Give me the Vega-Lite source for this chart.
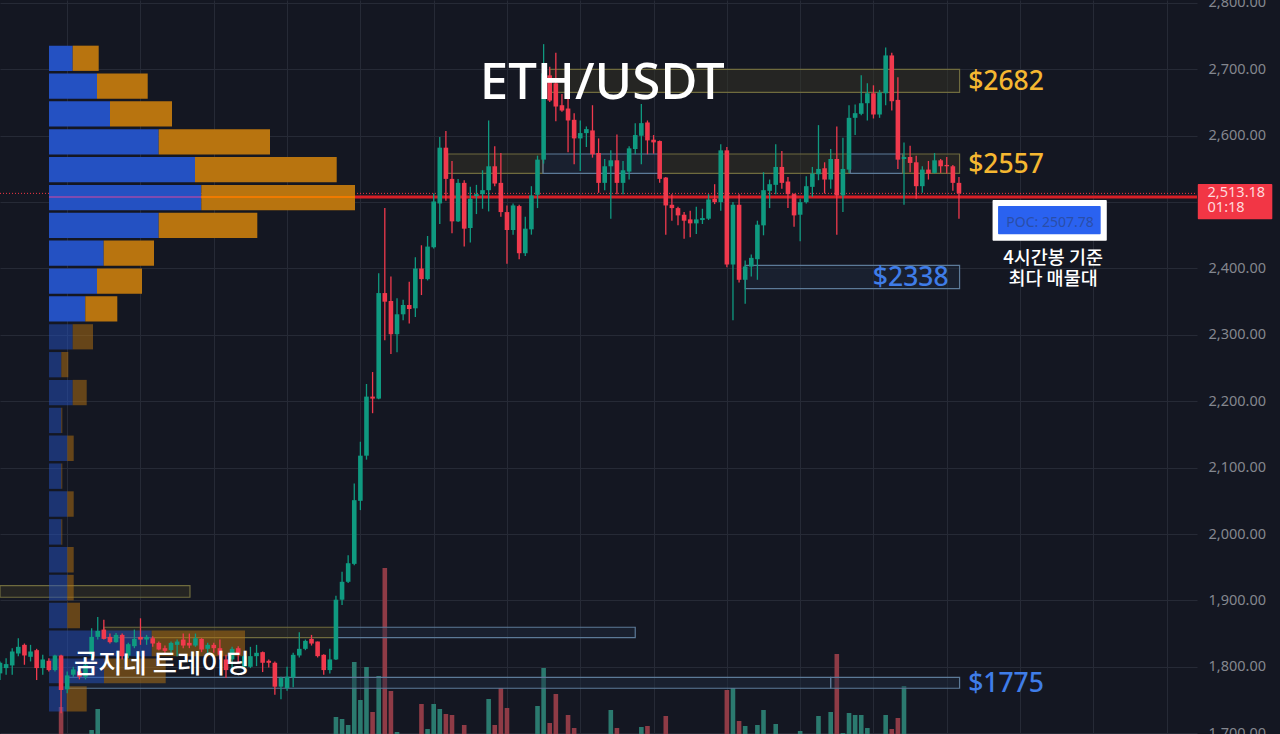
{
  "$schema": "https://vega.github.io/schema/vega-lite/v6.json",
  "width": 1197,
  "height": 734,
  "autosize": "none",
  "padding": {"left": 0, "top": 0, "right": 83, "bottom": 0},
  "background": "#141722",
  "config": {"view": {"stroke": null}},
  "datasets": {
    "candles": [
      {"bar":0,"open":1790,"high":1808,"low":1780,"close":1806},{"bar":1,"open":1798,"high":1813,"low":1788,"close":1804},{"bar":2,"open":1802,"high":1828,"low":1788,"close":1823},{"bar":3,"open":1820,"high":1843,"low":1816,"close":1830},{"bar":4,"open":1833,"high":1835,"low":1803,"close":1817},{"bar":5,"open":1815,"high":1833,"low":1808,"close":1823},{"bar":6,"open":1825,"high":1827,"low":1780,"close":1798},{"bar":7,"open":1798,"high":1818,"low":1788,"close":1811},{"bar":8,"open":1809,"high":1813,"low":1793,"close":1795},{"bar":9,"open":1795,"high":1818,"low":1793,"close":1817},
      {"bar":10,"open":1817,"high":1818,"low":1730,"close":1765},{"bar":11,"open":1766,"high":1793,"low":1760,"close":1787},{"bar":12,"open":1788,"high":1800,"low":1785,"close":1796},{"bar":13,"open":1793,"high":1798,"low":1781,"close":1785},{"bar":14,"open":1785,"high":1808,"low":1781,"close":1803},{"bar":15,"open":1818,"high":1858,"low":1813,"close":1845},{"bar":16,"open":1845,"high":1875,"low":1841,"close":1854},{"bar":17,"open":1856,"high":1871,"low":1841,"close":1842},{"bar":18,"open":1845,"high":1850,"low":1835,"close":1837},{"bar":19,"open":1837,"high":1851,"low":1836,"close":1848},
      {"bar":20,"open":1848,"high":1850,"low":1811,"close":1816},{"bar":21,"open":1817,"high":1836,"low":1813,"close":1834},{"bar":22,"open":1831,"high":1856,"low":1828,"close":1842},{"bar":23,"open":1845,"high":1873,"low":1833,"close":1841},{"bar":24,"open":1841,"high":1848,"low":1833,"close":1845},{"bar":25,"open":1843,"high":1846,"low":1830,"close":1835},{"bar":26,"open":1836,"high":1838,"low":1825,"close":1826},{"bar":27,"open":1828,"high":1832,"low":1820,"close":1824},{"bar":28,"open":1825,"high":1838,"low":1821,"close":1836},{"bar":29,"open":1833,"high":1841,"low":1816,"close":1838},
      {"bar":30,"open":1841,"high":1850,"low":1828,"close":1832},{"bar":31,"open":1836,"high":1850,"low":1828,"close":1832},{"bar":32,"open":1832,"high":1850,"low":1830,"close":1843},{"bar":33,"open":1842,"high":1843,"low":1822,"close":1826},{"bar":34,"open":1827,"high":1836,"low":1818,"close":1833},{"bar":35,"open":1833,"high":1836,"low":1821,"close":1828},{"bar":36,"open":1828,"high":1841,"low":1811,"close":1818},{"bar":37,"open":1811,"high":1818,"low":1783,"close":1795},{"bar":38,"open":1811,"high":1830,"low":1793,"close":1827},{"bar":39,"open":1828,"high":1831,"low":1805,"close":1818},
      {"bar":40,"open":1800,"high":1818,"low":1798,"close":1816},{"bar":41,"open":1800,"high":1830,"low":1798,"close":1816},{"bar":42,"open":1816,"high":1833,"low":1801,"close":1821},{"bar":43,"open":1822,"high":1823,"low":1792,"close":1806},{"bar":44,"open":1809,"high":1811,"low":1799,"close":1806},{"bar":45,"open":1806,"high":1808,"low":1758,"close":1770},{"bar":46,"open":1770,"high":1785,"low":1751,"close":1783},{"bar":47,"open":1768,"high":1800,"low":1764,"close":1785},{"bar":48,"open":1784,"high":1821,"low":1769,"close":1818},{"bar":49,"open":1817,"high":1852,"low":1814,"close":1827},
      {"bar":50,"open":1827,"high":1841,"low":1825,"close":1839},{"bar":51,"open":1842,"high":1848,"low":1832,"close":1835},{"bar":52,"open":1838,"high":1838,"low":1814,"close":1816},{"bar":53,"open":1818,"high":1819,"low":1788,"close":1795},{"bar":54,"open":1795,"high":1827,"low":1790,"close":1811},{"bar":55,"open":1811,"high":1907,"low":1810,"close":1901},{"bar":56,"open":1901,"high":1943,"low":1893,"close":1928},{"bar":57,"open":1928,"high":1968,"low":1926,"close":1956},{"bar":58,"open":1955,"high":2076,"low":1953,"close":2051},{"bar":59,"open":2050,"high":2139,"low":2036,"close":2118},
      {"bar":60,"open":2118,"high":2226,"low":2112,"close":2207},{"bar":61,"open":2207,"high":2244,"low":2182,"close":2204},{"bar":62,"open":2204,"high":2393,"low":2203,"close":2363},{"bar":63,"open":2363,"high":2491,"low":2292,"close":2350},{"bar":64,"open":2351,"high":2388,"low":2271,"close":2301},{"bar":65,"open":2301,"high":2355,"low":2274,"close":2331},{"bar":66,"open":2331,"high":2353,"low":2322,"close":2345},{"bar":67,"open":2345,"high":2380,"low":2317,"close":2339},{"bar":68,"open":2340,"high":2417,"low":2327,"close":2400},{"bar":69,"open":2400,"high":2435,"low":2360,"close":2384},
      {"bar":70,"open":2384,"high":2449,"low":2382,"close":2433},{"bar":71,"open":2432,"high":2513,"low":2430,"close":2501},{"bar":72,"open":2498,"high":2598,"low":2467,"close":2582},{"bar":73,"open":2582,"high":2607,"low":2502,"close":2535},{"bar":74,"open":2535,"high":2562,"low":2453,"close":2471},{"bar":75,"open":2471,"high":2535,"low":2470,"close":2529},{"bar":76,"open":2529,"high":2533,"low":2433,"close":2460},{"bar":77,"open":2461,"high":2523,"low":2439,"close":2505},{"bar":78,"open":2509,"high":2526,"low":2482,"close":2512},{"bar":79,"open":2512,"high":2548,"low":2490,"close":2518},
      {"bar":80,"open":2518,"high":2623,"low":2486,"close":2554},{"bar":81,"open":2554,"high":2584,"low":2524,"close":2528},{"bar":82,"open":2529,"high":2574,"low":2478,"close":2485},{"bar":83,"open":2485,"high":2495,"low":2407,"close":2458},{"bar":84,"open":2458,"high":2498,"low":2451,"close":2495},{"bar":85,"open":2494,"high":2496,"low":2414,"close":2423},{"bar":86,"open":2423,"high":2478,"low":2419,"close":2460},{"bar":87,"open":2459,"high":2524,"low":2451,"close":2510},{"bar":88,"open":2511,"high":2570,"low":2491,"close":2564},{"bar":89,"open":2564,"high":2738,"low":2558,"close":2694},
      {"bar":90,"open":2691,"high":2704,"low":2651,"close":2653},{"bar":91,"open":2679,"high":2725,"low":2622,"close":2644},{"bar":92,"open":2646,"high":2663,"low":2636,"close":2638},{"bar":93,"open":2641,"high":2661,"low":2575,"close":2623},{"bar":94,"open":2624,"high":2634,"low":2557,"close":2596},{"bar":95,"open":2596,"high":2623,"low":2547,"close":2604},{"bar":96,"open":2604,"high":2614,"low":2583,"close":2610},{"bar":97,"open":2608,"high":2646,"low":2567,"close":2572},{"bar":98,"open":2574,"high":2596,"low":2514,"close":2529},{"bar":99,"open":2529,"high":2565,"low":2518,"close":2554},
      {"bar":100,"open":2554,"high":2578,"low":2475,"close":2563},{"bar":101,"open":2563,"high":2602,"low":2512,"close":2529},{"bar":102,"open":2529,"high":2562,"low":2512,"close":2548},{"bar":103,"open":2546,"high":2584,"low":2534,"close":2581},{"bar":104,"open":2580,"high":2619,"low":2572,"close":2601},{"bar":105,"open":2600,"high":2648,"low":2557,"close":2619},{"bar":106,"open":2620,"high":2623,"low":2572,"close":2593},{"bar":107,"open":2594,"high":2601,"low":2573,"close":2590},{"bar":108,"open":2592,"high":2593,"low":2529,"close":2535},{"bar":109,"open":2537,"high":2538,"low":2451,"close":2495},
      {"bar":110,"open":2496,"high":2512,"low":2472,"close":2491},{"bar":111,"open":2491,"high":2493,"low":2465,"close":2480},{"bar":112,"open":2481,"high":2485,"low":2445,"close":2472},{"bar":113,"open":2474,"high":2487,"low":2447,"close":2468},{"bar":114,"open":2468,"high":2493,"low":2452,"close":2474},{"bar":115,"open":2473,"high":2490,"low":2467,"close":2476},{"bar":116,"open":2475,"high":2512,"low":2473,"close":2504},{"bar":117,"open":2505,"high":2527,"low":2497,"close":2500},{"bar":118,"open":2500,"high":2587,"low":2487,"close":2578},{"bar":119,"open":2578,"high":2583,"low":2402,"close":2406},
      {"bar":120,"open":2406,"high":2500,"low":2322,"close":2496},{"bar":121,"open":2496,"high":2512,"low":2379,"close":2383},{"bar":122,"open":2383,"high":2412,"low":2347,"close":2403},{"bar":123,"open":2403,"high":2421,"low":2388,"close":2416},{"bar":124,"open":2414,"high":2472,"low":2383,"close":2466},{"bar":125,"open":2465,"high":2545,"low":2450,"close":2518},{"bar":126,"open":2517,"high":2534,"low":2491,"close":2527},{"bar":127,"open":2526,"high":2587,"low":2512,"close":2553},{"bar":128,"open":2553,"high":2577,"low":2520,"close":2529},{"bar":129,"open":2531,"high":2538,"low":2491,"close":2512},
      {"bar":130,"open":2512,"high":2513,"low":2463,"close":2480},{"bar":131,"open":2481,"high":2505,"low":2441,"close":2500},{"bar":132,"open":2500,"high":2539,"low":2498,"close":2524},{"bar":133,"open":2523,"high":2553,"low":2508,"close":2543},{"bar":134,"open":2542,"high":2616,"low":2533,"close":2550},{"bar":135,"open":2551,"high":2560,"low":2513,"close":2534},{"bar":136,"open":2534,"high":2580,"low":2520,"close":2565},{"bar":137,"open":2565,"high":2614,"low":2451,"close":2510},{"bar":138,"open":2510,"high":2597,"low":2485,"close":2550},{"bar":139,"open":2549,"high":2646,"low":2544,"close":2627},
      {"bar":140,"open":2627,"high":2647,"low":2601,"close":2634},{"bar":141,"open":2633,"high":2691,"low":2631,"close":2649},{"bar":142,"open":2649,"high":2679,"low":2623,"close":2664},{"bar":143,"open":2664,"high":2676,"low":2626,"close":2632},{"bar":144,"open":2632,"high":2669,"low":2627,"close":2665},{"bar":145,"open":2664,"high":2733,"low":2646,"close":2721},{"bar":146,"open":2721,"high":2725,"low":2638,"close":2652},{"bar":147,"open":2654,"high":2688,"low":2550,"close":2564},{"bar":148,"open":2565,"high":2590,"low":2496,"close":2568},{"bar":149,"open":2568,"high":2585,"low":2545,"close":2559},
      {"bar":150,"open":2560,"high":2570,"low":2505,"close":2524},{"bar":151,"open":2524,"high":2554,"low":2514,"close":2549},{"bar":152,"open":2549,"high":2562,"low":2534,"close":2543},{"bar":153,"open":2544,"high":2574,"low":2543,"close":2563},{"bar":154,"open":2563,"high":2565,"low":2544,"close":2554},{"bar":155,"open":2556,"high":2568,"low":2543,"close":2554},{"bar":156,"open":2554,"high":2556,"low":2517,"close":2529},{"bar":157,"open":2529,"high":2538,"low":2475,"close":2513.18}
    ],
    "volume": [
      {"bar":10,"vol":27,"side":"down"},{"bar":15,"vol":4,"side":"up"},{"bar":16,"vol":25,"side":"up"},
      {"bar":55,"vol":17,"side":"up"},{"bar":56,"vol":15,"side":"up"},{"bar":57,"vol":9,"side":"up"},{"bar":58,"vol":72,"side":"up"},{"bar":59,"vol":34,"side":"up"},{"bar":60,"vol":67,"side":"up"},{"bar":61,"vol":22,"side":"down"},{"bar":62,"vol":58,"side":"up"},{"bar":63,"vol":166,"side":"down"},{"bar":64,"vol":43,"side":"down"},{"bar":65,"vol":2,"side":"up"},
      {"bar":69,"vol":30,"side":"down"},{"bar":70,"vol":5,"side":"up"},{"bar":71,"vol":30,"side":"up"},{"bar":72,"vol":25,"side":"up"},{"bar":73,"vol":20,"side":"down"},{"bar":74,"vol":19,"side":"down"},{"bar":76,"vol":9,"side":"down"},
      {"bar":80,"vol":35,"side":"up"},{"bar":81,"vol":9,"side":"down"},{"bar":82,"vol":46,"side":"down"},{"bar":83,"vol":26,"side":"down"},{"bar":88,"vol":28,"side":"up"},{"bar":89,"vol":66,"side":"up"},{"bar":90,"vol":11,"side":"down"},{"bar":91,"vol":40,"side":"down"},{"bar":93,"vol":19,"side":"down"},{"bar":94,"vol":6,"side":"down"},
      {"bar":100,"vol":24,"side":"up"},{"bar":101,"vol":6,"side":"down"},{"bar":105,"vol":7,"side":"up"},{"bar":106,"vol":8,"side":"down"},{"bar":109,"vol":18,"side":"down"},{"bar":119,"vol":44,"side":"down"},{"bar":120,"vol":46,"side":"up"},{"bar":121,"vol":13,"side":"down"},{"bar":122,"vol":8,"side":"up"},{"bar":124,"vol":9,"side":"up"},{"bar":125,"vol":24,"side":"up"},{"bar":127,"vol":10,"side":"up"},{"bar":131,"vol":3,"side":"up"},
      {"bar":134,"vol":18,"side":"up"},{"bar":136,"vol":22,"side":"up"},{"bar":137,"vol":80,"side":"down"},{"bar":138,"vol":1,"side":"up"},{"bar":139,"vol":21,"side":"up"},{"bar":140,"vol":19,"side":"up"},{"bar":141,"vol":19,"side":"up"},{"bar":142,"vol":6,"side":"up"},{"bar":145,"vol":19,"side":"up"},{"bar":146,"vol":5,"side":"down"},{"bar":147,"vol":16,"side":"down"},{"bar":148,"vol":48,"side":"up"}
    ],
    "zones": [
      {"start":90,"end":157.1,"hi":2700,"lo":2665.4,"kind":"resistance"},
      {"start":73.3,"end":88.9,"hi":2572.5,"lo":2543.4,"kind":"resistance"},
      {"start":88.9,"end":108,"hi":2572.5,"lo":2543.4,"kind":"support"},
      {"start":108,"end":139.2,"hi":2572.5,"lo":2543.4,"kind":"resistance"},
      {"start":139.2,"end":147.8,"hi":2572.5,"lo":2543.4,"kind":"support"},
      {"start":147.8,"end":157.1,"hi":2572.5,"lo":2543.4,"kind":"resistance"},
      {"start":122,"end":157.1,"hi":2404.8,"lo":2369.6,"kind":"support"},
      {"start":0,"end":31.1,"hi":1922.1,"lo":1904.7,"kind":"resistance"},
      {"start":17,"end":55,"hi":1859.5,"lo":1843.8,"kind":"resistance"},
      {"start":55,"end":104,"hi":1859.5,"lo":1843.8,"kind":"support"},
      {"start":11,"end":136,"hi":1784.1,"lo":1767.6,"kind":"support"},
      {"start":136,"end":157.1,"hi":1784.1,"lo":1767.6,"kind":"support"}
    ],
    "profile": [
      {"hi":2735.7,"lo":2697.7,"side":"buy","vol":23.7},{"hi":2735.7,"lo":2697.7,"side":"sell","vol":26},
      {"hi":2693.7,"lo":2655.7,"side":"buy","vol":48},{"hi":2693.7,"lo":2655.7,"side":"sell","vol":50.7},
      {"hi":2651.8,"lo":2613.8,"side":"buy","vol":61},{"hi":2651.8,"lo":2613.8,"side":"sell","vol":62},
      {"hi":2609.8,"lo":2571.8,"side":"buy","vol":109.7},{"hi":2609.8,"lo":2571.8,"side":"sell","vol":111.3},
      {"hi":2567.9,"lo":2529.9,"side":"buy","vol":146},{"hi":2567.9,"lo":2529.9,"side":"sell","vol":141.7},
      {"hi":2525.9,"lo":2487.9,"side":"buy","vol":152.3},{"hi":2525.9,"lo":2487.9,"side":"sell","vol":153.7},
      {"hi":2484,"lo":2446,"side":"buy","vol":109.7},{"hi":2484,"lo":2446,"side":"sell","vol":98.6},
      {"hi":2442,"lo":2404,"side":"buy","vol":54.7},{"hi":2442,"lo":2404,"side":"sell","vol":50.3},
      {"hi":2400,"lo":2362,"side":"buy","vol":48},{"hi":2400,"lo":2362,"side":"sell","vol":45},
      {"hi":2358,"lo":2320,"side":"buy","vol":36.3},{"hi":2358,"lo":2320,"side":"sell","vol":32},
      {"hi":2316.1,"lo":2278.1,"side":"buy","vol":23.7},{"hi":2316.1,"lo":2278.1,"side":"sell","vol":20.3},
      {"hi":2274.1,"lo":2236,"side":"buy","vol":12.3},{"hi":2274.1,"lo":2236,"side":"sell","vol":7},
      {"hi":2232.2,"lo":2194,"side":"buy","vol":23.7},{"hi":2232.2,"lo":2194,"side":"sell","vol":14},
      {"hi":2190.2,"lo":2152,"side":"buy","vol":12.3},{"hi":2190.2,"lo":2152,"side":"sell","vol":1},
      {"hi":2148.3,"lo":2110,"side":"buy","vol":18.3},{"hi":2148.3,"lo":2110,"side":"sell","vol":6.4},
      {"hi":2106.3,"lo":2068,"side":"buy","vol":12.3},{"hi":2106.3,"lo":2068,"side":"sell","vol":1},
      {"hi":2064.3,"lo":2026,"side":"buy","vol":18.3},{"hi":2064.3,"lo":2026,"side":"sell","vol":6.4},
      {"hi":2022.4,"lo":1984,"side":"buy","vol":12.3},{"hi":2022.4,"lo":1984,"side":"sell","vol":1},
      {"hi":1980.4,"lo":1942,"side":"buy","vol":18.3},{"hi":1980.4,"lo":1942,"side":"sell","vol":6.4},
      {"hi":1938.5,"lo":1900,"side":"buy","vol":18.3},{"hi":1938.5,"lo":1900,"side":"sell","vol":6.4},
      {"hi":1896.5,"lo":1858,"side":"buy","vol":18.3},{"hi":1896.5,"lo":1858,"side":"sell","vol":12.7},
      {"hi":1854.5,"lo":1816,"side":"buy","vol":102.7},{"hi":1854.5,"lo":1816,"side":"sell","vol":93.3},
      {"hi":1812.6,"lo":1775,"side":"buy","vol":55},{"hi":1812.6,"lo":1775,"side":"sell","vol":61.7},
      {"hi":1770.6,"lo":1732.6,"side":"buy","vol":17.7},{"hi":1770.6,"lo":1732.6,"side":"sell","vol":20}
    ]
  },
  "resolve": {"scale": {"x": "independent", "y": "independent", "color": "independent", "stroke": "independent"}},
  "layer": [
    {
      "layer": [
        {
          "data": {"name": "volume"},
          "mark": {"type": "rule", "strokeWidth": 4.6},
          "encoding": {
            "x": {"field": "bar", "type": "quantitative", "scale": {"domain": [0, 195.97], "nice": false, "zero": false}, "axis": null},
            "y": {"field": "vol", "type": "quantitative", "scale": {"domain": [0, 734], "nice": false}, "axis": null},
            "y2": {"datum": 0},
            "color": {"field": "side", "type": "nominal", "legend": null, "scale": {"domain": ["up", "down"], "range": ["#2b7a6f", "#8f3b46"]}}
          }
        }
      ]
    },
    {
      "layer": [
        {
          "data": {"name": "zones"},
          "mark": {"type": "rect", "strokeWidth": 1.2, "fillOpacity": 0.45},
          "encoding": {
            "x": {
              "field": "start", "type": "quantitative",
              "scale": {"domain": [0, 195.97], "nice": false, "zero": false},
              "axis": {"orient": "bottom", "values": [11, 23, 35, 47, 59, 71, 83, 95, 107, 119, 131, 143, 155, 167, 179, 191], "grid": true, "gridColor": "#262a36", "gridWidth": 1, "labels": false, "ticks": false, "domain": false, "title": null}
            },
            "x2": {"field": "end"},
            "y": {
              "field": "hi", "type": "quantitative",
              "scale": {"domain": [1698.7, 2804.5], "nice": false, "zero": false},
              "axis": {"orient": "right", "values": [1700, 1800, 1900, 2000, 2100, 2200, 2300, 2400, 2500, 2600, 2700, 2800], "labelExpr": "datum.value == 2500 ? '' : format(datum.value, ',.2f')", "grid": true, "gridColor": "#262a36", "gridWidth": 1, "ticks": false, "domain": false, "title": null, "labelColor": "#84878f", "labelFont": "Noto Sans", "labelFontSize": 14.5, "labelPadding": 11, "labelBound": false, "labelOverlap": false, "labelFlush": false}
            },
            "y2": {"field": "lo"},
            "color": {"field": "kind", "type": "nominal", "legend": null, "scale": {"domain": ["resistance", "support"], "range": ["#3a3826", "#1f2c40"]}},
            "stroke": {"field": "kind", "type": "nominal", "legend": null, "scale": {"domain": ["resistance", "support"], "range": ["#6f6b3e", "#5c7a98"]}}
          }
        },
        {
          "data": {"values": [{"start": 8.02, "end": 195.97, "price": 2507.78}]},
          "mark": {"type": "rule", "strokeWidth": 3, "color": "#d81f26"},
          "encoding": {
            "x": {"field": "start", "type": "quantitative"},
            "x2": {"field": "end"},
            "y": {"field": "price", "type": "quantitative"}
          }
        },
        {
          "data": {"values": [{"start": 0, "end": 195.97, "price": 2513.18}]},
          "mark": {"type": "rule", "strokeWidth": 1, "strokeDash": [1, 2], "color": "#f23645"},
          "encoding": {
            "x": {"field": "start", "type": "quantitative"},
            "x2": {"field": "end"},
            "y": {"field": "price", "type": "quantitative"}
          }
        }
      ]
    },
    {
      "layer": [
        {
          "data": {"name": "profile"},
          "transform": [{"stack": "vol", "groupby": ["hi"], "sort": [{"field": "side", "order": "ascending"}], "as": ["v0", "v1"]}],
          "mark": {"type": "rect"},
          "encoding": {
            "x": {"field": "v0", "type": "quantitative", "scale": {"domain": [-49, 1148], "nice": false, "zero": false}, "axis": null},
            "x2": {"field": "v1"},
            "y": {"field": "hi", "type": "quantitative", "scale": {"domain": [1698.7, 2804.5], "nice": false, "zero": false}, "axis": null},
            "y2": {"field": "lo"},
            "color": {"field": "side", "type": "nominal", "legend": null, "scale": {"domain": ["buy", "sell"], "range": ["#2451c2", "#b8740f"]}},
            "opacity": {"condition": {"test": "datum.hi < 2320", "value": 0.5}, "value": 1}
          }
        },
        {
          "data": {"name": "profile"},
          "transform": [
            {"stack": "vol", "groupby": ["hi"], "sort": [{"field": "side", "order": "ascending"}], "as": ["v0", "v1"]},
            {"filter": "datum.hi == 2525.9"}
          ],
          "mark": {"type": "rule", "strokeWidth": 2},
          "encoding": {
            "x": {"field": "v0", "type": "quantitative"},
            "x2": {"field": "v1"},
            "y": {"datum": 2507.78},
            "stroke": {"field": "side", "type": "nominal", "legend": null, "scale": {"domain": ["buy", "sell"], "range": ["#7f4bb0", "#f07a00"]}}
          }
        }
      ]
    },
    {
      "layer": [
        {
          "data": {"name": "candles"},
          "mark": {"type": "rule", "strokeWidth": 1.3},
          "encoding": {
            "x": {"field": "bar", "type": "quantitative", "scale": {"domain": [0, 195.97], "nice": false, "zero": false}, "axis": null},
            "y": {"field": "low", "type": "quantitative", "scale": {"domain": [1698.7, 2804.5], "nice": false, "zero": false}, "axis": null},
            "y2": {"field": "high"},
            "stroke": {"condition": {"test": "datum.close >= datum.open", "value": "#0f9a80"}, "value": "#f0394d"}
          }
        },
        {
          "data": {"name": "candles"},
          "mark": {"type": "rule", "strokeWidth": 4.6},
          "encoding": {
            "x": {"field": "bar", "type": "quantitative"},
            "y": {"field": "open", "type": "quantitative"},
            "y2": {"field": "close"},
            "stroke": {"condition": {"test": "datum.close >= datum.open", "value": "#0f9a80"}, "value": "#f0394d"}
          }
        },
        {
          "data": {"values": [
            {"start": 162.5, "end": 181.2, "hi": 2503.2, "lo": 2441.9, "part": "frame"},
            {"start": 163.4, "end": 180.2, "hi": 2494.2, "lo": 2451.5, "part": "fill"},
            {"start": 196.1, "end": 208.3, "hi": 2527.3, "lo": 2474.1, "part": "tag"}
          ]},
          "mark": {"type": "rect", "cornerRadius": 1},
          "encoding": {
            "x": {"field": "start", "type": "quantitative"},
            "x2": {"field": "end"},
            "y": {"field": "hi", "type": "quantitative"},
            "y2": {"field": "lo"},
            "color": {"field": "part", "type": "nominal", "legend": null, "scale": {"domain": ["frame", "fill", "tag"], "range": ["#ffffff", "#2a62f0", "#f23645"]}}
          }
        },
        {
          "data": {"values": [{"bar": 98.6, "price": 2678.5, "label": "ETH/USDT"}]},
          "mark": {"type": "text", "font": "Noto Sans", "fontSize": 51, "fontWeight": 500, "color": "#ffffff", "align": "center", "baseline": "middle"},
          "encoding": {"x": {"field": "bar", "type": "quantitative"}, "y": {"field": "price", "type": "quantitative"}, "text": {"field": "label"}}
        },
        {
          "data": {"values": [
            {"bar": 158.5, "price": 2681, "label": "$2682"},
            {"bar": 158.5, "price": 2556, "label": "$2557"}
          ]},
          "mark": {"type": "text", "font": "Noto Sans", "fontSize": 26.5, "fontWeight": 500, "color": "#f5b731", "align": "left", "baseline": "middle"},
          "encoding": {"x": {"field": "bar", "type": "quantitative"}, "y": {"field": "price", "type": "quantitative"}, "text": {"field": "label"}}
        },
        {
          "data": {"values": [
            {"bar": 142.9, "price": 2385.7, "label": "$2338"},
            {"bar": 158.5, "price": 1774, "label": "$1775"}
          ]},
          "mark": {"type": "text", "font": "Noto Sans", "fontSize": 26.5, "fontWeight": 500, "color": "#3f7de8", "align": "left", "baseline": "middle"},
          "encoding": {"x": {"field": "bar", "type": "quantitative"}, "y": {"field": "price", "type": "quantitative"}, "text": {"field": "label"}}
        },
        {
          "data": {"values": [
            {"bar": 172.4, "price": 2416, "label": "4시간봉 기준"},
            {"bar": 172.4, "price": 2384, "label": "최다 매물대"}
          ]},
          "mark": {"type": "text", "font": "Noto Sans CJK KR", "fontSize": 18.5, "fontWeight": 500, "color": "#ffffff", "align": "center", "baseline": "middle"},
          "encoding": {"x": {"field": "bar", "type": "quantitative"}, "y": {"field": "price", "type": "quantitative"}, "text": {"field": "label"}}
        },
        {
          "data": {"values": [{"bar": 26.5, "price": 1802.7, "label": "곰지네 트레이딩"}]},
          "mark": {"type": "text", "font": "Noto Sans CJK KR", "fontSize": 26.4, "fontWeight": 500, "color": "#ffffff", "align": "center", "baseline": "middle"},
          "encoding": {"x": {"field": "bar", "type": "quantitative"}, "y": {"field": "price", "type": "quantitative"}, "text": {"field": "label"}}
        },
        {
          "data": {"values": [{"bar": 171.9, "price": 2469, "label": "POC: 2507.78"}]},
          "mark": {"type": "text", "font": "Noto Sans", "fontSize": 14, "color": "#2a4ea8", "align": "center", "baseline": "middle"},
          "encoding": {"x": {"field": "bar", "type": "quantitative"}, "y": {"field": "price", "type": "quantitative"}, "text": {"field": "label"}}
        },
        {
          "data": {"values": [
            {"bar": 197.7, "price": 2514.2, "label": "2,513.18"},
            {"bar": 197.7, "price": 2491.1, "label": "01:18"}
          ]},
          "mark": {"type": "text", "font": "Noto Sans", "fontSize": 14.5, "color": "#ffd9dc", "align": "left", "baseline": "middle"},
          "encoding": {"x": {"field": "bar", "type": "quantitative"}, "y": {"field": "price", "type": "quantitative"}, "text": {"field": "label"}}
        }
      ]
    }
  ]
}
